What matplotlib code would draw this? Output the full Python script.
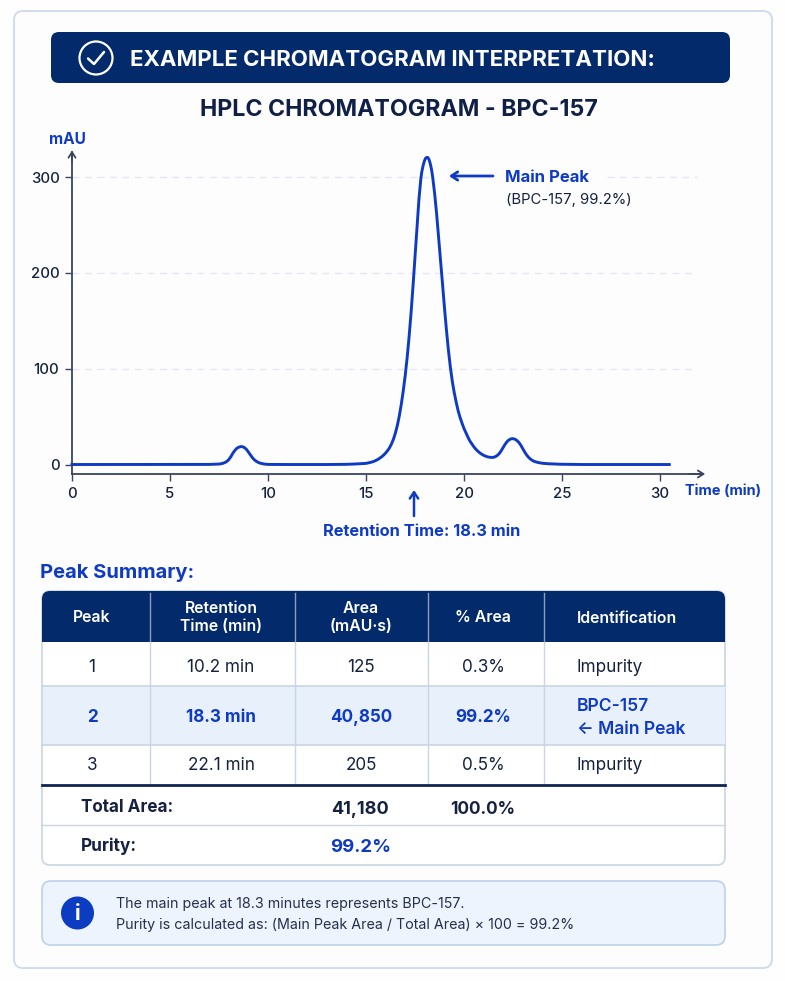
## HPLC chromatogram interpretation card

import matplotlib
matplotlib.use("Agg")
import matplotlib.pyplot as plt
from matplotlib.patches import FancyBboxPatch, Rectangle, Circle

plt.rcParams['font.family'] = ['Inter', 'DejaVu Sans']

# chromatogram trace
time = [0, 2, 4, 6, 7, 7.5, 7.6, 7.7, 7.8, 7.9, 8.0, 8.1, 8.2, 8.3, 8.4, 8.5, 8.6, 8.7, 8.8, 8.9,
        9.0, 9.1, 9.2, 9.3, 9.4, 9.5, 9.6, 9.7, 9.8, 9.9, 10.0, 11, 13, 14, 14.5,
        15.0, 15.1, 15.2, 15.3, 15.4, 15.5, 15.6, 15.7, 15.8, 15.9,
        16.0, 16.1, 16.2, 16.3, 16.4, 16.5, 16.6, 16.7, 16.8, 16.9,
        17.0, 17.1, 17.2, 17.3, 17.4, 17.5, 17.6, 17.7, 17.8, 17.85, 17.9, 17.95,
        18.0, 18.05, 18.1, 18.15, 18.2, 18.25, 18.3, 18.35, 18.4, 18.5, 18.6, 18.7, 18.8, 18.9,
        19.0, 19.1, 19.2, 19.3, 19.4, 19.5, 19.6, 19.7, 19.8, 19.9,
        20.0, 20.1, 20.2, 20.3, 20.4, 20.5, 20.6, 20.7, 20.8, 20.9,
        21.0, 21.1, 21.2, 21.3, 21.4, 21.5, 21.6, 21.7, 21.8, 21.9,
        22.0, 22.1, 22.2, 22.3, 22.4, 22.5, 22.6, 22.7, 22.8, 22.9,
        23.0, 23.1, 23.2, 23.3, 23.4, 23.5, 23.6, 23.8, 24.0, 24.3, 24.6, 24.9, 26, 28, 30.47]
signal = [0, 0, 0, 0, 0.1, 0.5, 0.8, 1.3, 2.1, 3.2, 5.2, 8, 11.6, 14.5, 16.8, 18, 18.7, 18.6, 17.6, 15.8,
          13, 10, 7.2, 5, 3.4, 2.2, 1.4, 0.9, 0.5, 0.3, 0.1, 0, 0, 0.2, 0.6,
          1.2, 1.6, 2.1, 2.6, 3.3, 4.2, 5.3, 6.6, 8.1, 9.9,
          12, 14.5, 17.5, 21.5, 26.5, 33, 41, 51, 63, 77,
          93, 112, 134, 159, 187, 217, 248, 277, 299, 306, 311, 315,
          318, 320, 320.5, 320.5, 319, 316, 312, 307, 300, 283, 262, 238, 214, 189,
          164, 141, 120, 102, 87, 75, 65, 56, 49, 43,
          37.5, 33, 28.5, 24.5, 21.5, 18.5, 16, 14, 12.2, 10.8,
          9.6, 8.7, 8, 7.6, 7.4, 7.5, 8.2, 9.5, 11.5, 14.5,
          18, 21.3, 24, 25.8, 26.8, 27, 26.4, 25, 23, 20,
          16.3, 12.8, 9.8, 7.3, 5.5, 4.1, 3.1, 2, 1.3, 0.8, 0.5, 0.3, 0, 0, 0]

x_ticks = [0, 5, 10, 15, 20, 25, 30]
y_ticks = [0, 100, 200, 300]
grid_levels = [100, 200]

# table
col_edges = [42, 150, 295, 428, 544, 725]
col_centers = [92, 221, 361, 483]
headers = ["Peak", "Retention\nTime (min)", "Area\n(mAU·s)", "% Area", "Identification"]
peaks = ["1", "2", "3"]
ret_times = ["10.2 min", "18.3 min", "22.1 min"]
areas = ["125", "40,850", "205"]
pct_areas = ["0.3%", "99.2%", "0.5%"]
idents = ["Impurity", "BPC-157\n← Main Peak", "Impurity"]
row_lines = [686, 745]
row_mids = [668, 718, 765.5]

NAVY = "#032a6b"
BLUE = "#0f3bc4"
INK = "#16213f"
AXIS = "#3c4560"
LINE = "#c9d4e4"

fig = plt.figure(figsize=(7.85, 9.81), dpi=100, facecolor="#fefefe")

# whole-page axes in pixels
bg = fig.add_axes([0, 0, 1, 1])
bg.set_xlim(0, 785)
bg.set_ylim(981, 0)
bg.axis("off")


def rbox(x0, y0, x1, y1, r, fc, ec="none", lw=1.0, z=1):
    bg.add_patch(FancyBboxPatch((x0, y0), x1 - x0, y1 - y0, boxstyle="round,pad=0,rounding_size=%s" % r,
                                fc=fc, ec=ec, lw=lw, zorder=z))


rbox(14, 11, 772, 968, 9, "#fdfdfe", "#cfd9e8", 1.3)

# header bar
rbox(51, 32, 730, 83, 8, NAVY, z=2)
bg.add_patch(Circle((96, 58), 16.5, fc="none", ec="white", lw=1.6, zorder=3))
bg.plot([88, 94, 104], [58.5, 64, 52], color="white", lw=1.8, zorder=3, solid_capstyle="round")
bg.text(130, 59.5, "EXAMPLE CHROMATOGRAM INTERPRETATION:", color="white", fontsize=16, fontweight="bold",
        va="center", ha="left", zorder=3)
bg.text(398.5, 110, "HPLC CHROMATOGRAM - BPC-157", color="#0f1f45", fontsize=16.7, fontweight="bold",
        va="center", ha="center")

# chart annotations
bg.text(67, 140, "mAU", color=BLUE, fontsize=11.1, fontweight="bold", va="center", ha="center")
bg.text(505, 177, "Main Peak", color=BLUE, fontsize=12, fontweight="bold", va="center", ha="left")
bg.text(506, 200, "(BPC-157, 99.2%)", color=INK, fontsize=10.7, va="center", ha="left")
bg.text(685, 491, "Time (min)", color=BLUE, fontsize=10.5, fontweight="bold", va="center", ha="left")
bg.text(421.5, 532, "Retention Time: 18.3 min", color=BLUE, fontsize=11.8, fontweight="bold", va="center", ha="center")
bg.annotate("", xy=(449, 176), xytext=(493, 176),
            arrowprops=dict(arrowstyle="->,head_length=0.45,head_width=0.3", color=BLUE, lw=2, shrinkA=0, shrinkB=0))
bg.annotate("", xy=(414, 490), xytext=(414, 516),
            arrowprops=dict(arrowstyle="->,head_length=0.45,head_width=0.3", color=BLUE, lw=1.8, shrinkA=0, shrinkB=0))

# chromatogram
ax = fig.add_axes([72 / 785, 1 - 474 / 981, 630 / 785, 322 / 981])
ax.patch.set_alpha(0)
ax.set_xlim(0, 32.14)
ax.set_ylim(-9.9, 326.2)
for lev in grid_levels:
    ax.hlines(lev, 0, 31.9, color="#e4e8ef", lw=1, linestyles=(0, (5, 4)), zorder=1)
ax.hlines(300, 0, 18.2, color="#e4e8ef", lw=1, linestyles=(0, (5, 4)), zorder=1)
ax.hlines(300, 27.3, 31.9, color="#e4e8ef", lw=1, linestyles=(0, (5, 4)), zorder=1)
ax.plot(time, signal, color=BLUE, lw=2.1, zorder=3, solid_joinstyle="round", clip_on=False)

ax.spines["top"].set_visible(False)
ax.spines["right"].set_visible(False)
ax.spines["left"].set_color(AXIS)
ax.spines["bottom"].set_color(AXIS)
ax.spines["left"].set_linewidth(1.3)
ax.spines["bottom"].set_linewidth(1.3)
ax.set_xticks(x_ticks)
ax.set_yticks(y_ticks)
ax.tick_params(axis="both", colors=AXIS, labelcolor=INK, labelsize=10.8, width=1, length=5, pad=4)
for lab in ax.get_xticklabels() + ax.get_yticklabels():
    lab.set_fontweight("medium")
ax.annotate("", xy=(1.005, 0), xytext=(0.98, 0), xycoords="axes fraction",
            arrowprops=dict(arrowstyle="->,head_length=0.4,head_width=0.25", color=AXIS, lw=1.3, shrinkA=0, shrinkB=0))
ax.annotate("", xy=(0, 1.005), xytext=(0, 0.97), xycoords="axes fraction",
            arrowprops=dict(arrowstyle="->,head_length=0.4,head_width=0.25", color=AXIS, lw=1.3, shrinkA=0, shrinkB=0))

# peak summary table
bg.text(40, 573, "Peak Summary:", color=BLUE, fontsize=14.5, fontweight="bold", va="center", ha="left")
rbox(42, 591, 725, 865, 8, "white", LINE, 1.2)
rbox(42, 591, 725, 630, 8, NAVY, z=2)
bg.add_patch(Rectangle((42, 605), 683, 37, fc=NAVY, ec="none", zorder=2))
bg.add_patch(Rectangle((43, 686), 682, 59, fc="#e8f1fb", ec="none", zorder=1.5))

for xe in col_edges[1:-1]:
    bg.plot([xe, xe], [593, 641], color="#8c9cba", lw=1, zorder=3)
    bg.plot([xe, xe], [642, 785], color=LINE, lw=1, zorder=2)
for ye in row_lines:
    bg.plot([42, 725], [ye, ye], color=LINE, lw=1.2, zorder=2)
bg.plot([42, 725], [824.5, 824.5], color=LINE, lw=1, zorder=2)
bg.plot([42, 725], [785, 785], color="#0e2554", lw=2, zorder=3)

for i in range(4):
    bg.text(col_centers[i], 617.5, headers[i], color="white", fontsize=11.4, fontweight="semibold", va="center",
            ha="center", zorder=4, linespacing=1.27)
bg.text(577, 618.5, headers[4], color="white", fontsize=11.4, fontweight="semibold", va="center", ha="left", zorder=4)

for i in range(3):
    mid = row_mids[i]
    hi = i == 1
    col = BLUE if hi else INK
    wt = "bold" if hi else "normal"
    bg.text(col_centers[0], mid, peaks[i], color=col, fontsize=12.3, fontweight=wt, va="center", ha="center", zorder=4)
    bg.text(col_centers[1], mid, ret_times[i], color=col, fontsize=12.3, fontweight=wt, va="center", ha="center", zorder=4)
    bg.text(col_centers[2], mid, areas[i], color=col, fontsize=12.3, fontweight=wt, va="center", ha="center", zorder=4)
    bg.text(col_centers[3], mid, pct_areas[i], color=col, fontsize=12.3, fontweight=wt, va="center", ha="center", zorder=4)
    bg.text(577, mid, idents[i], color=col, fontsize=12.6 if hi else 12.3,
            fontweight="semibold" if hi else "normal", va="center", ha="left", zorder=4, linespacing=1.45)

bg.text(81, 808, "Total Area:", color=INK, fontsize=12.3, fontweight="bold", va="center", ha="left", zorder=4)
bg.text(360, 809, "41,180", color=INK, fontsize=13, fontweight="bold", va="center", ha="center", zorder=4)
bg.text(483, 809, "100.0%", color=INK, fontsize=12.4, fontweight="bold", va="center", ha="center", zorder=4)
bg.text(81, 846, "Purity:", color=INK, fontsize=12.4, fontweight="bold", va="center", ha="left", zorder=4)
bg.text(361, 847, "99.2%", color=BLUE, fontsize=13.4, fontweight="bold", va="center", ha="center", zorder=4)

# info box
rbox(42, 881, 725, 945, 9, "#eef4fd", "#bcd0ee", 1.2)
bg.add_patch(Circle((77.5, 913), 16.5, fc="#0b3cc1", ec="none", zorder=3))
bg.text(77.5, 913.5, "i", color="white", fontsize=15, fontweight="bold", va="center", ha="center", zorder=4)
bg.text(116, 904, "The main peak at 18.3 minutes represents BPC-157.", color="#25304d", fontsize=10.3, va="center", ha="left")
bg.text(116, 924.5, "Purity is calculated as: (Main Peak Area / Total Area) × 100 = 99.2%", color="#25304d", fontsize=10.3,
        va="center", ha="left")

fig.savefig("out.png", dpi=100, facecolor=fig.get_facecolor())
